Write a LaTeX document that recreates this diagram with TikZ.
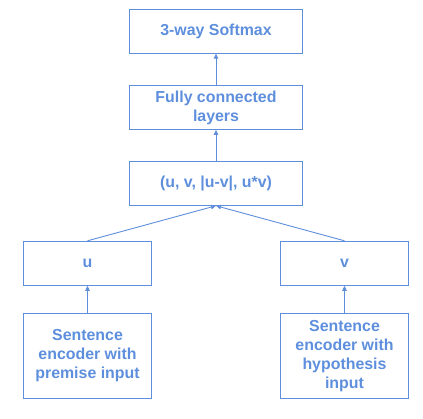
\documentclass[tikz,border=0pt]{standalone}
\usepackage{fontspec}
\setmainfont{Liberation Sans}
\usetikzlibrary{arrows.meta,positioning}
\definecolor{boxblue}{HTML}{5E8FDD}
\begin{document}
\begin{tikzpicture}[x=1bp,y=-1bp,
  blk/.style={draw=boxblue,line width=1bp,text=boxblue,font=\fontsize{15.9bp}{19bp}\selectfont\bfseries,align=center,inner sep=0pt},
  conn/.style={draw=boxblue,line width=0.9bp,-{Triangle[width=4.5bp,length=5bp]}}]
\useasboundingbox (0,0) rectangle (423,419);
\node[blk,minimum width=173bp,minimum height=43.5bp] (soft) at (216,31.4) {3-way Softmax};
\node[blk,minimum width=173bp,minimum height=44bp] (fc) at (216,107.4) {Fully connected\\layers};
\node[blk,minimum width=173bp,minimum height=43.5bp] (cat) at (216,183.5) {(u, v, |u-v|, u*v)};
\node[blk,minimum width=128.4bp,minimum height=44bp] (u) at (87.5,263.3) {u};
\node[blk,minimum width=128.4bp,minimum height=44bp] (v) at (344.5,263.3) {v};
\node[blk,minimum width=128.4bp,minimum height=85bp] (encp) at (87.5,355.8) {Sentence\\encoder with\\premise input};
\node[blk,minimum width=128.4bp,minimum height=85bp] (ench) at (344.5,355.8) {Sentence\\encoder with\\hypothesis\\input};
\draw[conn] (fc.north) -- (soft.south);
\draw[conn] (cat.north) -- (fc.south);
\draw[conn] (u.north) -- (cat.south);
\draw[conn] (v.north) -- (cat.south);
\draw[conn] (encp.north) -- (u.south);
\draw[conn] (ench.north) -- (v.south);
\end{tikzpicture}
\end{document}
